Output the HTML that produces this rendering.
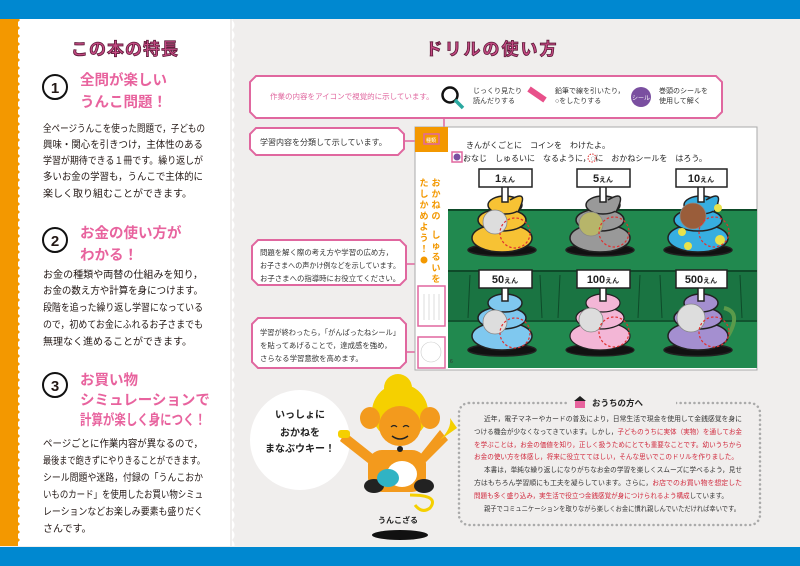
<!DOCTYPE html>
<html><head><meta charset="utf-8">
<style>
html,body{margin:0;padding:0;width:800px;height:566px;overflow:hidden;background:#f0eeed}
svg{display:block}
text{font-family:"Liberation Sans","Noto Sans CJK JP",sans-serif}
</style></head><body>
<svg width="800" height="566" viewBox="0 0 800 566" xmlns="http://www.w3.org/2000/svg">
<defs>
<pattern id="zz" width="8" height="8" patternUnits="userSpaceOnUse">
<polygon points="0,0 4,4 0,8" fill="#f39800"/>
</pattern>
<pattern id="wv" width="8" height="10" patternUnits="userSpaceOnUse">
<path d="M0,0 Q5,5 0,10 Z" fill="#fff"/>
</pattern>
</defs>
<rect width="800" height="566" fill="#f0eeed"/>
<rect x="18" y="19" width="212" height="527" fill="#fff"/>
<rect x="230" y="19" width="5" height="527" fill="url(#wv)"/>
<rect x="0" y="19" width="18" height="527" fill="#f39800"/>
<rect x="18" y="19" width="5" height="527" fill="url(#zz)"/>
<rect x="0" y="0" width="800" height="19" fill="#0088d0"/>
<rect x="0" y="547" width="800" height="19" fill="#0088d0"/>

<text x="125" y="55" text-anchor="middle" font-size="17" font-weight="bold" fill="#c44a83" stroke="#5a1836" stroke-width="0.8" letter-spacing="1">この本の特長</text>

<g font-size="10" fill="#231815">
<circle cx="55" cy="87" r="12" fill="none" stroke="#111" stroke-width="2"/>
<text x="55" y="93" text-anchor="middle" font-size="15" font-weight="bold">1</text>
<text x="80" y="85" font-size="14.5" font-weight="bold" fill="#e8639e">全問が楽しい</text>
<text x="80" y="107" font-size="14.5" font-weight="bold" fill="#e8639e">うんこ問題！</text>
<text x="43" y="132" textLength="162" lengthAdjust="spacingAndGlyphs">全ページうんこを使った問題で，子どもの</text>
<text x="43" y="148" textLength="160" lengthAdjust="spacingAndGlyphs">興味・関心を引きつけ，主体性のある</text>
<text x="43" y="164" textLength="160" lengthAdjust="spacingAndGlyphs">学習が期待できる１冊です。繰り返しが</text>
<text x="43" y="180" textLength="160" lengthAdjust="spacingAndGlyphs">多いお金の学習も，うんこで主体的に</text>
<text x="43" y="197">楽しく取り組むことができます。</text>

<circle cx="55" cy="240" r="12" fill="none" stroke="#111" stroke-width="2"/>
<text x="55" y="246" text-anchor="middle" font-size="15" font-weight="bold">2</text>
<text x="80" y="238" font-size="14.5" font-weight="bold" fill="#e8639e">お金の使い方が</text>
<text x="80" y="260" font-size="14.5" font-weight="bold" fill="#e8639e">わかる！</text>
<text x="43" y="278" textLength="160" lengthAdjust="spacingAndGlyphs">お金の種類や両替の仕組みを知り，</text>
<text x="43" y="294" textLength="160" lengthAdjust="spacingAndGlyphs">お金の数え方や計算を身につけます。</text>
<text x="43" y="311" textLength="160" lengthAdjust="spacingAndGlyphs">段階を追った繰り返し学習になっている</text>
<text x="43" y="328" textLength="160" lengthAdjust="spacingAndGlyphs">ので，初めてお金にふれるお子さまでも</text>
<text x="43" y="345">無理なく進めることができます。</text>

<circle cx="55" cy="385" r="12" fill="none" stroke="#111" stroke-width="2"/>
<text x="55" y="391" text-anchor="middle" font-size="15" font-weight="bold">3</text>
<text x="80" y="385" font-size="14.5" font-weight="bold" fill="#e8639e">お買い物</text>
<text x="80" y="405" font-size="14.5" font-weight="bold" fill="#e8639e">シミュレーションで</text>
<text x="80" y="425" font-size="14.5" font-weight="bold" fill="#e8639e" textLength="126" lengthAdjust="spacingAndGlyphs">計算が楽しく身につく！</text>
<text x="43" y="447" textLength="160" lengthAdjust="spacingAndGlyphs">ページごとに作業内容が異なるので，</text>
<text x="43" y="464" textLength="162" lengthAdjust="spacingAndGlyphs">最後まで飽きずにやりきることができます。</text>
<text x="43" y="481" textLength="160" lengthAdjust="spacingAndGlyphs">シール問題や迷路，付録の「うんこおか</text>
<text x="43" y="498" textLength="160" lengthAdjust="spacingAndGlyphs">いものカード」を使用したお買い物シミュ</text>
<text x="43" y="515" textLength="160" lengthAdjust="spacingAndGlyphs">レーションなどお楽しみ要素も盛りだく</text>
<text x="43" y="532">さんです。</text>
</g>

<text x="492" y="55" text-anchor="middle" font-size="17" font-weight="bold" fill="#c44a83" stroke="#5a1836" stroke-width="0.8" letter-spacing="2">ドリルの使い方</text>

<path d="M256,76 H716 L722,82 V112 L716,118 H256 L250,112 V82 Z" fill="#fff" stroke="#e0679f" stroke-width="2"/>
<text x="270" y="99" font-size="7.5" fill="#e0679f">作業の内容をアイコンで視覚的に示しています。</text>
<circle cx="450" cy="95" r="7.5" fill="none" stroke="#111" stroke-width="2.5"/>
<line x1="455" y1="100" x2="463" y2="108" stroke="#2aa8a0" stroke-width="3.5"/>
<text x="473" y="93" font-size="7" fill="#333">じっくり見たり</text>
<text x="473" y="103" font-size="7" fill="#333">読んだりする</text>
<line x1="529" y1="89" x2="545" y2="100" stroke="#e8508a" stroke-width="6"/>
<text x="555" y="93" font-size="7" fill="#333">鉛筆で線を引いたり，</text>
<text x="555" y="103" font-size="7" fill="#333">○をしたりする</text>
<circle cx="641" cy="97" r="10" fill="#7a4fa0"/>
<text x="641" y="100" font-size="6" fill="#fff" text-anchor="middle">シール</text>
<text x="659" y="93" font-size="7" fill="#333">巻頭のシールを</text>
<text x="659" y="103" font-size="7" fill="#333">使用して解く</text>
<line x1="444" y1="118" x2="444" y2="150" stroke="#e0679f" stroke-width="1.5"/>

<path d="M256,128 H398 L404,134 V149 L398,155 H256 L250,149 V134 Z" fill="#fff" stroke="#e0679f" stroke-width="2"/>
<text x="260" y="145" font-size="8" fill="#333">学習内容を分類して示しています。</text>
<line x1="404" y1="141" x2="418" y2="141" stroke="#e0679f" stroke-width="1.5"/>

<path d="M258,240 H400 L406,246 V279 L400,285 H258 L252,279 V246 Z" fill="#fff" stroke="#e0679f" stroke-width="2"/>
<text x="260" y="255" font-size="7.4" fill="#333">問題を解く際の考え方や学習の広め方，</text>
<text x="260" y="268" font-size="7.4" fill="#333" textLength="140" lengthAdjust="spacingAndGlyphs">お子さまへの声かけ例などを示しています。</text>
<text x="260" y="281" font-size="7.4" fill="#333">お子さまへの指導時にお役立てください。</text>
<polyline points="406,264 432,264 432,278" fill="none" stroke="#e0679f" stroke-width="1.5"/>

<path d="M258,318 H400 L406,324 V362 L400,368 H258 L252,362 V324 Z" fill="#fff" stroke="#e0679f" stroke-width="2"/>
<text x="260" y="335" font-size="7.4" fill="#333" textLength="140" lengthAdjust="spacingAndGlyphs">学習が終わったら，「がんばったねシール」</text>
<text x="260" y="348" font-size="7.4" fill="#333">を貼ってあげることで，達成感を強め，</text>
<text x="260" y="361" font-size="7.4" fill="#333">さらなる学習意欲を高めます。</text>
<line x1="406" y1="352" x2="418" y2="352" stroke="#e0679f" stroke-width="1.5"/>

<rect x="415" y="127" width="342" height="243" fill="#fff" stroke="#aaa" stroke-width="1"/>
<rect x="415" y="127" width="33" height="25" fill="#f39800"/>
<rect x="424" y="134" width="15" height="10" fill="none" stroke="#e0679f" stroke-width="1.5"/>
<text x="431" y="142" font-size="5" fill="#fff" text-anchor="middle">種類</text>
<text x="466" y="148" font-size="8" fill="#222">きんがくごとに　コインを　わけたよ。</text>
<rect x="452" y="152" width="10" height="10" fill="none" stroke="#e0679f" stroke-width="1.5"/>
<circle cx="457" cy="157" r="3.5" fill="#7a4fa0"/>
<text x="463" y="161" font-size="8" fill="#222">おなじ　しゅるいに　なるように，◌に　おかねシールを　はろう。</text>
<circle cx="592" cy="158" r="4" fill="none" stroke="#d33" stroke-dasharray="1.5 1.2"/>
<g font-size="9" font-weight="bold" fill="#f39800" text-anchor="middle">
<text x="436" y="186">お</text><text x="436" y="197">か</text><text x="436" y="208">ね</text><text x="436" y="219">の</text>
<text x="436" y="238">し</text><text x="436" y="249">ゅ</text><text x="436" y="260">る</text><text x="436" y="271">い</text><text x="436" y="282">を</text>
<text x="424" y="186">た</text><text x="424" y="197">し</text><text x="424" y="208">か</text><text x="424" y="219">め</text><text x="424" y="230">よ</text><text x="424" y="241">う</text><text x="424" y="252">！</text>
</g>
<circle cx="424" cy="260" r="3.5" fill="#f39800"/>
<rect x="418" y="286" width="27" height="40" fill="#fff" stroke="#e0679f" stroke-width="1.5"/>
<g stroke="#bbb" stroke-width="0.5"><line x1="424" y1="294" x2="424" y2="320"/><line x1="429" y1="294" x2="429" y2="320"/><line x1="434" y1="294" x2="434" y2="320"/><line x1="439" y1="294" x2="439" y2="320"/></g>
<rect x="418" y="337" width="27" height="31" fill="#fff" stroke="#e0679f" stroke-width="1.5"/>
<circle cx="431" cy="352" r="10" fill="none" stroke="#ccc" stroke-width="0.6"/>
<rect x="448" y="210" width="309" height="158" fill="#21894f"/>
<rect x="448" y="270" width="309" height="52" fill="#1a7442"/>
<g stroke="#0e4a29" stroke-width="1">
<line x1="448" y1="210" x2="757" y2="210" stroke-width="2"/>
<line x1="448" y1="271" x2="757" y2="271" stroke-width="2"/>
<line x1="448" y1="321" x2="757" y2="321" stroke-width="1.5"/>
<line x1="470" y1="275" x2="468" y2="318"/><line x1="540" y1="275" x2="542" y2="318"/><line x1="560" y1="275" x2="558" y2="318"/><line x1="640" y1="275" x2="638" y2="318"/><line x1="660" y1="275" x2="662" y2="318"/><line x1="740" y1="275" x2="742" y2="318"/>
</g>
<text x="450" y="363" font-size="5" fill="#333">6</text>

<g fill="#f7c234" stroke="#222" stroke-width="1.5">
<ellipse cx="502" cy="250" rx="34" ry="6" fill="#111"/>
<ellipse cx="502" cy="238" rx="30" ry="14"/>
<ellipse cx="502" cy="220" rx="24" ry="11"/>
<ellipse cx="505" cy="205" rx="17" ry="9"/>
<path d="M510,200 Q530,188 518,212"/>
</g>
<g fill="#999" stroke="#222" stroke-width="1.5">
<ellipse cx="600" cy="250" rx="34" ry="6" fill="#111"/>
<ellipse cx="600" cy="238" rx="30" ry="14"/>
<ellipse cx="600" cy="220" rx="24" ry="11"/>
<ellipse cx="603" cy="205" rx="17" ry="9"/>
<path d="M608,200 Q628,188 616,212"/>
</g>
<g fill="#37aee0" stroke="#222" stroke-width="1.5">
<ellipse cx="698" cy="250" rx="34" ry="6" fill="#111"/>
<ellipse cx="698" cy="238" rx="30" ry="14"/>
<ellipse cx="698" cy="220" rx="24" ry="11"/>
<ellipse cx="701" cy="205" rx="17" ry="9"/>
<path d="M706,200 Q726,188 714,212"/>
</g>
<g fill="#e8e24b"><circle cx="718" cy="208" r="4"/><circle cx="682" cy="232" r="4"/><circle cx="720" cy="240" r="5"/><circle cx="688" cy="246" r="4"/></g>
<g fill="#7fc8ef" stroke="#222" stroke-width="1.5">
<ellipse cx="502" cy="350" rx="34" ry="6" fill="#111"/>
<ellipse cx="502" cy="336" rx="30" ry="14"/>
<ellipse cx="502" cy="318" rx="24" ry="11"/>
<ellipse cx="505" cy="303" rx="17" ry="9"/>
</g>
<g fill="#f3b6d6" stroke="#222" stroke-width="1.2">
<ellipse cx="600" cy="350" rx="34" ry="6" fill="#111"/>
<ellipse cx="600" cy="336" rx="30" ry="14"/>
<ellipse cx="600" cy="318" rx="24" ry="11"/>
<ellipse cx="603" cy="303" rx="17" ry="9"/>
</g>
<g fill="#a48fd0" stroke="#222" stroke-width="1.5">
<ellipse cx="698" cy="350" rx="34" ry="6" fill="#111"/>
<path d="M724,308 Q742,312 728,336" fill="none" stroke="#5a9a4a" stroke-width="4"/>
<ellipse cx="698" cy="336" rx="30" ry="14"/>
<ellipse cx="698" cy="318" rx="24" ry="11"/>
<ellipse cx="701" cy="303" rx="17" ry="9"/>
</g>
<g stroke="#888" stroke-width="0.8">
<circle cx="495" cy="222" r="12" fill="#ddd"/>
<circle cx="591" cy="224" r="12" fill="#b7b56a"/>
<circle cx="693" cy="216" r="13" fill="#9a5d3a"/>
<circle cx="495" cy="322" r="12" fill="#ddd"/>
<circle cx="591" cy="320" r="12" fill="#ddd"/>
<circle cx="691" cy="318" r="14" fill="#ddd"/>
</g>
<g fill="none" stroke="#e03030" stroke-width="1.2" stroke-dasharray="2.5 2">
<circle cx="515" cy="233" r="15"/><circle cx="614" cy="232" r="15"/><circle cx="714" cy="232" r="15"/>
<circle cx="515" cy="333" r="15"/><circle cx="614" cy="332" r="15"/><circle cx="714" cy="332" r="15"/>
</g>
<g fill="#fff" stroke="#222" stroke-width="1.5">
<rect x="502" y="186" width="6" height="16"/><rect x="600" y="186" width="6" height="16"/><rect x="698" y="186" width="6" height="16"/>
<rect x="502" y="287" width="6" height="14"/><rect x="600" y="287" width="6" height="14"/><rect x="698" y="287" width="6" height="14"/>
<rect x="479" y="169" width="53" height="18"/><rect x="577" y="169" width="53" height="18"/><rect x="676" y="169" width="51" height="18"/>
<rect x="479" y="270" width="53" height="18"/><rect x="577" y="270" width="53" height="18"/><rect x="676" y="270" width="51" height="18"/>
</g>
<g font-size="11" font-weight="bold" fill="#222" text-anchor="middle">
<text x="505" y="182">1<tspan font-size="7">えん</tspan></text>
<text x="603" y="182">5<tspan font-size="7">えん</tspan></text>
<text x="701" y="182">10<tspan font-size="7">えん</tspan></text>
<text x="505" y="283">50<tspan font-size="7">えん</tspan></text>
<text x="603" y="283">100<tspan font-size="7">えん</tspan></text>
<text x="701" y="283">500<tspan font-size="7">えん</tspan></text>
</g>

<circle cx="300" cy="440" r="50" fill="#fff"/>
<g font-size="10" font-weight="bold" fill="#222" text-anchor="middle">
<text x="300" y="418">いっしょに</text>
<text x="300" y="436">おかねを</text>
<text x="300" y="452">まなぶウキー！</text>
</g>
<ellipse cx="400" cy="535" rx="28" ry="5" fill="#111"/>
<text x="398" y="523" font-size="8" font-weight="bold" fill="#222" text-anchor="middle">うんこざる</text>
<path d="M410,495 Q440,495 430,508 Q422,514 415,505" fill="none" stroke="#f5d000" stroke-width="3"/>
<rect x="368" y="450" width="58" height="42" rx="14" fill="#f39a1d"/>
<path d="M345,432 L374,455 L368,463 L340,441 Z" fill="#f39a1d"/>
<path d="M440,430 L420,455 L426,462 L448,440 Z" fill="#f39a1d"/>
<rect x="338" y="430" width="12" height="8" rx="3" fill="#f5d000"/>
<path d="M440,440 Q452,428 450,418 L457,428 Z" fill="#f5d000"/>
<ellipse cx="374" cy="486" rx="10" ry="7" fill="#222"/>
<ellipse cx="424" cy="486" rx="10" ry="7" fill="#222"/>
<ellipse cx="402" cy="474" rx="15" ry="13" fill="#fff"/>
<ellipse cx="388" cy="478" rx="11" ry="9" fill="#30b3c4"/>
<circle cx="400" cy="412" r="28" fill="#f5d000"/>
<circle cx="398" cy="388" r="14" fill="#f5d000"/>
<ellipse cx="370" cy="418" rx="10" ry="11" fill="#f39a1d"/>
<ellipse cx="430" cy="418" rx="10" ry="11" fill="#f39a1d"/>
<ellipse cx="400" cy="426" rx="21" ry="20" fill="#f39a1d"/>
<path d="M391,427 q3,-3 6,0 M403,427 q3,-3 6,0" stroke="#222" fill="none" stroke-width="1.2"/>
<path d="M392,436 q8,6 16,0" stroke="#222" fill="none" stroke-width="1.5"/>
<circle cx="400" cy="449" r="3" fill="#222"/>

<rect x="459" y="403" width="301" height="122" rx="10" fill="none" stroke="#aaa" stroke-width="2.5" stroke-dasharray="0.1 4.5" stroke-linecap="round"/>
<rect x="568" y="394" width="108" height="16" fill="#f0eeed"/>
<path d="M574,401 L580,396 L586,401 Z" fill="#222"/>
<rect x="575" y="401" width="10" height="7" fill="#e8639e"/>
<text x="592" y="406" font-size="8.5" font-weight="bold" fill="#222">おうちの方へ</text>
<g font-size="6.6" fill="#333">
<text x="484" y="421" textLength="258" lengthAdjust="spacingAndGlyphs">近年，電子マネーやカードの普及により，日常生活で現金を使用して金銭感覚を身に</text>
<text x="474" y="434" textLength="268" lengthAdjust="spacingAndGlyphs">つける機会が少なくなってきています。しかし，<tspan fill="#d0283c">子どものうちに実体（実物）を通してお金</tspan></text>
<text x="474" y="447" fill="#d0283c" textLength="268" lengthAdjust="spacingAndGlyphs">を学ぶことは，お金の価値を知り，正しく扱うためにとても重要なことです。幼いうちから</text>
<text x="474" y="459" fill="#d0283c" textLength="264" lengthAdjust="spacingAndGlyphs">お金の使い方を体感し，将来に役立ててほしい，そんな思いでこのドリルを作りました。</text>
<text x="484" y="472" textLength="258" lengthAdjust="spacingAndGlyphs">本書は，単純な繰り返しになりがちなお金の学習を楽しくスムーズに学べるよう，見せ</text>
<text x="474" y="485" textLength="268" lengthAdjust="spacingAndGlyphs">方はもちろん学習順にも工夫を凝らしています。さらに，<tspan fill="#d0283c">お店でのお買い物を想定した</tspan></text>
<text x="474" y="498" textLength="254" lengthAdjust="spacingAndGlyphs"><tspan fill="#d0283c">問題も多く盛り込み，実生活で役立つ金銭感覚が身につけられるよう構成</tspan>しています。</text>
<text x="484" y="511" textLength="256" lengthAdjust="spacingAndGlyphs">親子でコミュニケーションを取りながら楽しくお金に慣れ親しんでいただければ幸いです。</text>
</g>
</svg>
</body></html>
